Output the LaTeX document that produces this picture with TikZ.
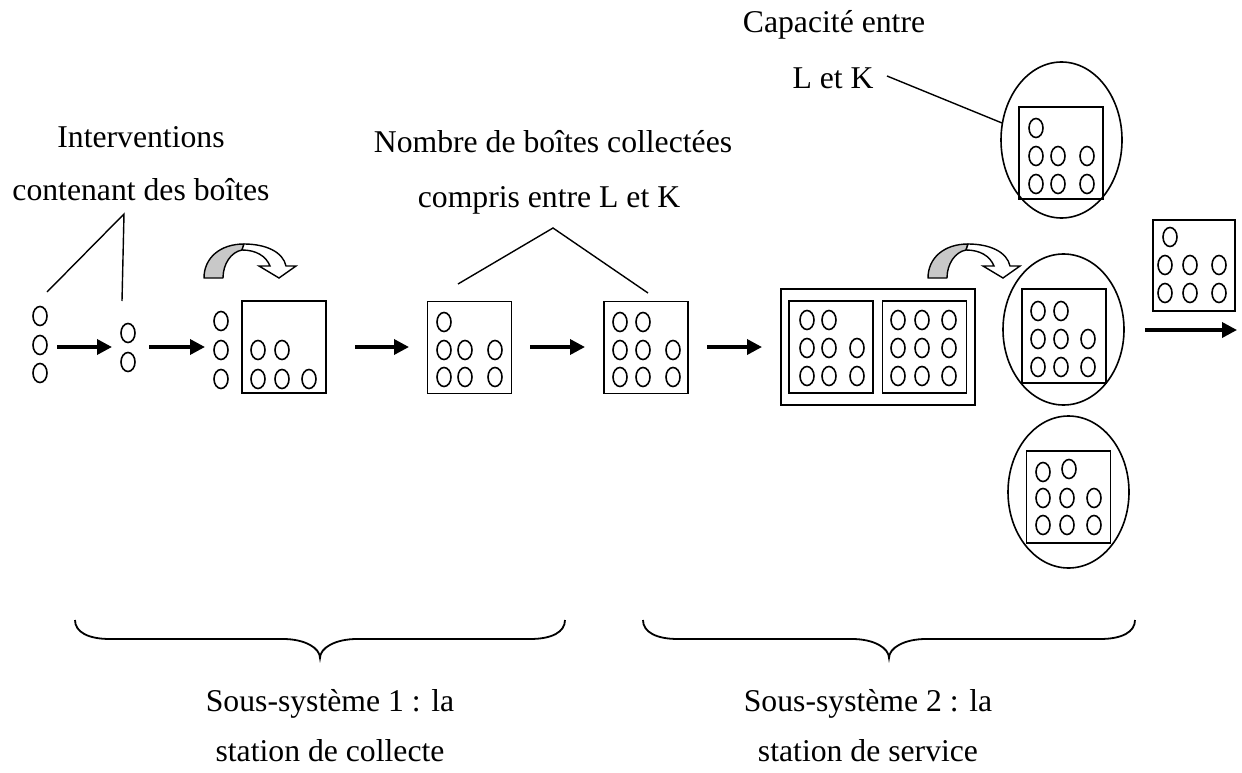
\documentclass[tikz,border=0pt]{standalone}
\usepackage{fontspec}
\setmainfont{Liberation Serif}
\usetikzlibrary{arrows.meta,shapes.geometric}
\definecolor{arrgray}{RGB}{200,200,200}
\begin{document}
\begin{tikzpicture}[x=1pt,y=-1pt,
  lbl/.style={inner sep=0pt, anchor=base, font=\fontsize{31.7}{38}\selectfont},
  dotline/.style={line width=1.6pt},
  boxst/.style={draw, line width=1.8pt, inner sep=0pt, minimum width=84pt, minimum height=92pt},
  ellst/.style={draw, ellipse, line width=1.6pt, inner sep=0pt, minimum width=121pt, minimum height=152pt},
  flow/.style={line width=3.5pt, -{Triangle[length=15pt,width=15pt]}},
  leader/.style={line width=1.4pt},
  brace/.style={line width=1.8pt},
  curvarrow/.pic={
    \filldraw[fill=arrgray, line width=1.4pt, line join=round]
      (0,0) .. controls (0,-20) and (16,-34) .. (40,-34) -- (38,-28)
      .. controls (27,-26) and (19,-14) .. (19,0) -- cycle;
    \filldraw[fill=white, line width=1.4pt, line join=miter]
      (40,-34) .. controls (62,-34) and (79,-26) .. (82,-12) -- (92,-12) -- (75,0)
      -- (55,-12) -- (66,-12) .. controls (62,-22) and (52,-28) .. (38,-28) -- cycle;
  }]
\useasboundingbox (0,0) rectangle (1242,773);

\newcommand\dotat[2]{\draw[dotline] (#1,#2) ellipse [x radius=7pt, y radius=9.5pt];}

% ---------- labels ----------
\node[lbl] (tInt1) at (141,147) {Interventions};
\node[lbl] (tInt2) at (141,200) {contenant des boîtes};
\node[lbl] (tNb1) at (553,153) {Nombre de boîtes collectées};
\node[lbl] (tNb2) at (549,207) {compris entre L et K};
\node[lbl] (tCap1) at (834,33) {Capacité entre};
\node[lbl] (tCap2) at (833,89) {L et K};
\node[lbl] (tS1a) at (330,711) {Sous-système 1 : la};
\node[lbl] (tS1b) at (330,761) {station de collecte};
\node[lbl] (tS2a) at (868,711) {Sous-système 2 : la};
\node[lbl] (tS2b) at (868,761) {station de service};

% ---------- loose interventions ----------
\dotat{40}{316}\dotat{40}{345}\dotat{40}{373}
\dotat{128}{333}\dotat{128}{362}
\dotat{221}{321}\dotat{221}{350}\dotat{221}{379}

% ---------- boxes ----------
\node[boxst] (b1) at (284,347) {};
\dotat{258}{350}\dotat{282}{350}
\dotat{258}{379}\dotat{282}{379}\dotat{309}{379}

\node[boxst] (b2) at (469.5,347.5) {};
\dotat{444}{322}
\dotat{444}{350}\dotat{465}{350}\dotat{495}{350}
\dotat{444}{377}\dotat{465}{377}\dotat{495}{377}

\node[boxst] (b3) at (646,347.5) {};
\dotat{620}{322}\dotat{643}{322}
\dotat{620}{350}\dotat{643}{350}\dotat{673}{350}
\dotat{620}{377}\dotat{643}{377}\dotat{673}{377}

\node[boxst, minimum width=194pt, minimum height=116pt] (big) at (878,347) {};
\node[boxst] (bA) at (831,347) {};
\node[boxst] (bB) at (924.5,347) {};
\dotat{807}{320}\dotat{829}{320}
\dotat{807}{348}\dotat{829}{348}\dotat{857}{348}
\dotat{807}{376}\dotat{829}{376}\dotat{857}{376}
\foreach \yy in {320,348,376}{\dotat{898}{\yy}\dotat{922}{\yy}\dotat{949}{\yy}}

% ---------- ellipses (service) ----------
\node[ellst, minimum height=156pt] (eT) at (1061.5,140) {};
\node[boxst] (bT) at (1061,153) {};
\dotat{1036}{128}
\dotat{1036}{156}\dotat{1058}{156}\dotat{1087}{156}
\dotat{1036}{184}\dotat{1058}{184}\dotat{1087}{184}

\node[ellst, minimum height=151pt] (eM) at (1063.5,329.5) {};
\node[boxst, minimum height=94pt] (bM) at (1064,336) {};
\dotat{1038}{311}\dotat{1061}{311}
\dotat{1038}{339}\dotat{1061}{339}\dotat{1088}{339}
\dotat{1038}{367}\dotat{1061}{367}\dotat{1088}{367}

\node[ellst] (eB) at (1068.5,492) {};
\node[boxst] (bBot) at (1068.5,497) {};
\dotat{1043}{472}\dotat{1069}{469}
\dotat{1043}{498}\dotat{1067}{498}\dotat{1094}{498}
\dotat{1043}{525}\dotat{1067}{525}\dotat{1094}{525}

% ---------- output box ----------
\node[boxst, minimum width=82pt, minimum height=91pt] (bOut) at (1194,265.5) {};
\dotat{1170}{237}
\dotat{1165}{265}\dotat{1190}{265}\dotat{1219}{265}
\dotat{1165}{293}\dotat{1190}{293}\dotat{1219}{293}

% ---------- flow arrows ----------
\coordinate (a1s) at (57,347);   \coordinate (a1e) at (112,347);
\coordinate (a2s) at (149,347);  \coordinate (a2e) at (205,347);
\coordinate (a3s) at (355,347);  \coordinate (a3e) at (409,347);
\coordinate (a4s) at (530,347);  \coordinate (a4e) at (585,347);
\coordinate (a5s) at (707,347);  \coordinate (a5e) at (762,347);
\coordinate (a6s) at (1145,330); \coordinate (a6e) at (1237,330);
\draw[flow] (a1s) -- (a1e);
\draw[flow] (a2s) -- (a2e);
\draw[flow] (a3s) -- (a3e);
\draw[flow] (a4s) -- (a4e);
\draw[flow] (a5s) -- (a5e);
\draw[flow] (a6s) -- (a6e);

% ---------- curved arrows ----------
\pic at (204,278) {curvarrow};
\pic at (928,278) {curvarrow};

% ---------- leader lines ----------
\coordinate (pInt) at (124,214);
\coordinate (pIntA) at (47,292);
\coordinate (pIntB) at (122,301);
\draw[leader] (pIntA) -- (pInt) -- (pIntB);
\coordinate (pNb) at (553,228);
\coordinate (pNbA) at (458,284);
\coordinate (pNbB) at (648,293);
\draw[leader] (pNbA) -- (pNb) -- (pNbB);
\coordinate (pCap) at (887,76);
\coordinate (pCapE) at (1002,123);
\draw[leader] (pCap) -- (pCapE);

% ---------- braces ----------
\draw[brace] (75,620) .. controls (75,632) and (88,639) .. (110,639) -- (283,639)
  .. controls (305,639) and (320,648) .. (320,658)
  .. controls (320,648) and (335,639) .. (357,639) -- (530,639)
  .. controls (552,639) and (565,632) .. (565,620);
\draw[brace] (643,620) .. controls (643,632) and (656,639) .. (678,639) -- (852,639)
  .. controls (874,639) and (889,648) .. (889,658)
  .. controls (889,648) and (904,639) .. (926,639) -- (1100,639)
  .. controls (1122,639) and (1135,632) .. (1135,620);
\end{tikzpicture}
\end{document}
